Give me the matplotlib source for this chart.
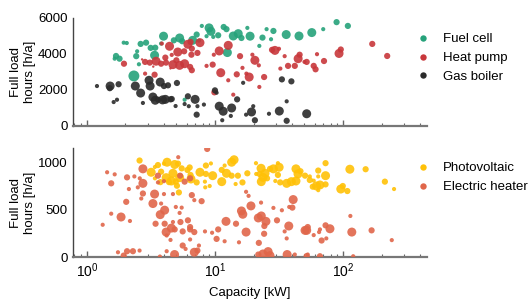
import matplotlib
matplotlib.use("Agg")
import matplotlib.pyplot as plt
from matplotlib.lines import Line2D
import numpy as np

plt.rcParams['font.family'] = ['Liberation Sans', 'DejaVu Sans']

S = {'t': 3, 's': 9, 'm': 20, 'b': 42, 'B': 62}

# Fuel cell: (capacity kW, full load hours, size class)
fuel_cell = [
    (3.97, 4990, 'b'), (5.3, 4890, 'b'), (5.55, 4710, 'm'), (4.78, 4760, 'm'),
    (1.94, 4630, 's'), (2.05, 4610, 's'), (2.63, 4560, 'm'), (2.90, 4630, 'm'),
    (3.15, 4340, 'm'), (3.42, 4350, 'm'), (3.80, 4580, 's'), (2.47, 4150, 's'),
    (3.38, 3930, 'b'), (1.69, 3890, 'm'), (1.65, 3740, 's'), (1.80, 3740, 'm'),
    (2.43, 3880, 'm'), (2.55, 3430, 's'), (2.33, 2780, 'B'), (5.8, 1460, 's'),
    (9.0, 5450, 'b'), (9.3, 5260, 'b'), (7.9, 5560, 's'), (7.2, 5080, 'm'),
    (6.7, 4760, 'b'), (7.5, 4740, 's'), (8.6, 4990, 's'), (9.7, 4950, 's'),
    (10.6, 5040, 'm'), (11.7, 5500, 'm'), (12.3, 5380, 'm'), (13.9, 5000, 'b'),
    (15.2, 5130, 'b'), (16.1, 4890, 'm'), (18.8, 4990, 'b'), (17.9, 5450, 's'),
    (12.5, 4080, 'b'), (22.2, 4450, 's'), (23.5, 4910, 'm'), (25.3, 5380, 's'),
    (27.4, 4820, 's'), (28.6, 5280, 'm'), (36.0, 5080, 'b'), (45.3, 5000, 'b'),
    (57, 5190, 'b'), (70, 5380, 's'), (89, 5770, 'm'), (109, 5560, 'm'),
]

heat_pump = [
    (6.15, 4540, 'b'), (4.42, 4430, 'b'), (3.85, 4580, 's'), (5.13, 4110, 'b'),
    (5.75, 4150, 'm'), (4.6, 3950, 's'), (4.1, 3800, 'm'), (1.95, 3460, 'm'),
    (2.85, 3560, 'm'), (3.10, 3520, 'm'), (3.47, 3600, 'b'), (3.80, 3460, 'm'),
    (4.15, 3520, 'm'), (4.7, 3410, 'b'), (5.3, 3370, 'b'), (5.8, 3460, 'b'),
    (5.0, 3650, 'm'), (6.4, 3280, 'm'), (3.38, 2850, 'm'), (2.85, 2910, 's'),
    (7.64, 4630, 'b'), (6.45, 4670, 'm'), (6.6, 4300, 'm'), (6.55, 3960, 'm'),
    (7.3, 4060, 'm'), (9.8, 3960, 's'), (10.8, 4170, 'b'), (12.7, 4480, 'b'),
    (15.7, 3880, 'm'), (19.6, 3960, 's'), (20.5, 3650, 'b'), (22.0, 3370, 's'),
    (9.6, 3410, 'm'), (8.6, 3340, 's'), (6.6, 3100, 'm'), (11.1, 2960, 'b'),
    (14.8, 2870, 'm'), (17.6, 2910, 's'), (18.5, 2720, 'b'), (16.4, 3230, 's'),
    (24.2, 2720, 'm'), (12.7, 2540, 's'), (29.4, 4200, 'b'), (27.9, 4230, 'm'),
    (31.6, 4290, 's'), (35.0, 3880, 's'), (37.2, 3340, 'm'), (42, 3340, 'm'),
    (44.6, 3740, 'b'), (45.8, 3960, 'm'), (50.0, 3560, 's'), (32.4, 3190, 's'),
    (22.2, 2170, 's'), (13.9, 1740, 's'), (9.9, 1870, 'm'), (62.6, 3990, 's'),
    (52, 3560, 'm'), (59, 3340, 'm'), (61, 3150, 'm'), (71, 3610, 'm'),
    (93, 4030, 'b'), (96, 4250, 'm'), (169, 4560, 'm'), (221, 3890, 'm'),
    (3.3, 3300, 't'), (4.5, 3200, 't'), (2.7, 3700, 't'),
]

gas_boiler = [
    (1.2, 2220, 's'), (1.52, 2220, 'b'), (1.51, 2100, 'm'), (1.77, 2320, 'm'),
    (1.62, 1330, 's'), (1.72, 1460, 's'), (2.39, 2220, 'b'), (2.63, 1830, 'b'),
    (3.06, 2540, 'b'), (3.12, 2220, 'b'), (3.28, 1610, 'b'), (3.42, 1430, 'b'),
    (3.74, 2440, 'b'), (4.0, 2220, 'm'), (4.1, 1480, 'b'), (3.6, 1460, 'm'),
    (4.3, 2260, 'm'), (4.5, 1480, 'm'), (5.05, 2390, 'm'), (2.74, 1280, 's'),
    (6.15, 1650, 'm'), (6.25, 1100, 's'), (4.93, 1110, 's'), (7.0, 1480, 'b'),
    (7.3, 1100, 's'), (7.2, 630, 'm'), (8.2, 1190, 's'), (10.0, 1980, 'm'),
    (10.3, 1850, 's'), (10.8, 1100, 'b'), (11.6, 820, 'b'), (11.4, 320, 's'),
    (13.5, 1000, 'b'), (13.3, 560, 's'), (14.9, 1480, 'm'), (16.6, 2400, 's'),
    (19.3, 780, 'b'), (19.9, 1100, 's'), (20.5, 320, 'm'), (17.5, 630, 's'),
    (26.4, 680, 's'), (31.8, 830, 'b'), (36.3, 1370, 's'), (36.3, 290, 'm'),
    (33.3, 2590, 'm'), (39.5, 2480, 'm'), (52, 680, 'b'), (3.9, 1450, 'b'),
    (4.6, 1500, 'm'), (5.8, 1220, 's'),
]

photovoltaic = [
    (2.58, 1018, 'm'), (3.40, 950, 's'), (3.59, 970, 'm'), (4.23, 1000, 'b'),
    (4.85, 976, 'b'), (5.15, 985, 'm'), (3.18, 894, 'b'), (3.80, 900, 'm'),
    (4.7, 883, 'b'), (5.5, 935, 'm'), (6.1, 918, 'm'), (3.40, 830, 's'),
    (4.16, 837, 'b'), (4.57, 802, 'b'), (4.95, 795, 'm'), (5.05, 752, 'm'),
    (5.3, 837, 'b'), (4.38, 790, 'm'), (3.75, 790, 'm'), (6.45, 865, 'm'),
    (5.23, 681, 'm'), (4.0, 985, 's'), (14.1, 1026, 'b'), (13.5, 1000, 'b'),
    (9.3, 987, 's'), (11.9, 965, 's'), (8.5, 965, 'm'), (6.35, 945, 'm'),
    (7.64, 894, 'b'), (9.6, 858, 'b'), (8.5, 876, 'm'), (11.3, 919, 'm'),
    (12.3, 883, 'b'), (13.5, 858, 'm'), (15.1, 858, 'm'), (17.9, 883, 'm'),
    (6.5, 823, 'b'), (7.2, 787, 'm'), (8.35, 795, 's'), (11.3, 795, 'b'),
    (9.1, 749, 's'), (8.4, 735, 's'), (14.5, 770, 's'), (16.4, 787, 'm'),
    (20.9, 990, 's'), (22.9, 936, 'b'), (22.3, 876, 'm'), (21.0, 876, 's'),
    (24.6, 883, 'b'), (23.7, 840, 'b'), (23.0, 795, 'b'), (25.5, 830, 'm'),
    (26.9, 930, 'm'), (28.6, 930, 'b'), (31.0, 990, 's'), (31.7, 947, 'b'),
    (31.0, 866, 'm'), (29.6, 802, 's'), (32.3, 787, 'm'), (42.9, 930, 'b'),
    (44.5, 877, 'b'), (50.5, 858, 'm'), (36.3, 777, 'b'), (39.5, 795, 'b'),
    (42.9, 802, 'b'), (46.5, 905, 'm'), (73, 990, 'm'), (113, 926, 'b'),
    (150, 926, 'm'), (64, 912, 'm'), (73, 858, 'b'), (55, 850, 's'),
    (64, 850, 's'), (55, 812, 'm'), (59, 805, 's'), (73, 766, 'm'),
    (66, 760, 'b'), (58, 742, 'm'), (62, 749, 'b'), (64, 705, 's'),
    (96, 717, 'b'), (99.5, 749, 'm'), (108, 696, 'm'), (212, 795, 'm'),
    (250, 717, 's'),
]

electric_heater = [
    (5.17, 1053, 's'), (2.74, 930, 'b'), (1.44, 894, 's'), (1.65, 872, 's'),
    (2.06, 840, 'm'), (2.35, 850, 's'), (2.59, 830, 's'), (1.55, 777, 'm'),
    (2.74, 777, 'b'), (3.59, 858, 'm'), (3.59, 787, 's'), (4.0, 800, 's'),
    (5.35, 858, 'm'), (5.8, 795, 'm'), (6.4, 830, 'm'), (2.13, 717, 's'),
    (2.5, 735, 's'), (3.38, 664, 'b'), (2.74, 670, 'm'), (2.66, 617, 's'),
    (4.0, 664, 's'), (2.03, 582, 'm'), (3.28, 564, 'b'), (3.80, 564, 's'),
    (4.7, 664, 's'), (4.95, 528, 's'), (5.5, 521, 's'), (4.05, 494, 'b'),
    (3.74, 447, 'b'), (3.44, 351, 'm'), (4.05, 351, 'm'), (4.7, 369, 's'),
    (5.38, 369, 'm'), (6.15, 387, 'm'), (5.3, 465, 's'), (1.85, 422, 'b'),
    (1.55, 457, 's'), (2.17, 380, 's'), (1.33, 340, 's'), (4.16, 263, 'b'),
    (4.57, 305, 'b'), (4.85, 291, 'm'), (5.6, 270, 'm'), (6.4, 291, 'm'),
    (4.2, 227, 's'), (4.5, 180, 's'), (5.6, 121, 'm'), (5.9, 85, 's'),
    (6.4, 185, 's'), (1.75, 50, 's'), (2.06, 61, 'm'), (2.29, 61, 'm'),
    (2.58, 68, 's'), (1.94, 15, 'm'), (4.2, 61, 's'), (4.84, 26, 'b'),
    (3.72, 5, 's'), (8.7, 1140, 'm'), (6.6, 653, 'm'), (6.9, 600, 's'),
    (7.87, 589, 'm'), (17.5, 688, 's'), (18.3, 645, 's'), (22.9, 574, 's'),
    (19.1, 539, 'b'), (16.1, 486, 'b'), (16.5, 451, 'b'), (12.2, 376, 'b'),
    (14.6, 351, 'm'), (21.8, 412, 'b'), (23.0, 433, 'b'), (25.0, 376, 'b'),
    (24.3, 327, 'm'), (30.5, 387, 'm'), (28.6, 518, 's'), (33.3, 493, 's'),
    (38.0, 528, 's'), (40.2, 521, 'm'), (40.8, 606, 'b'), (37.7, 327, 'b'),
    (35.0, 270, 's'), (36.3, 196, 's'), (50.5, 281, 'b'), (53, 316, 'm'),
    (6.4, 316, 'm'), (6.9, 263, 'm'), (8.36, 270, 's'), (9.5, 256, 's'),
    (10.6, 291, 'm'), (17.5, 263, 'b'), (24.2, 245, 'm'), (10.3, 191, 'm'),
    (11.9, 166, 's'), (15.4, 155, 's'), (22, 149, 'm'), (7.5, 121, 's'),
    (7.3, 68, 'm'), (6.9, 50, 'b'), (23.7, 32, 'b'), (26.0, 57, 'b'),
    (26.9, 15, 'b'), (21.8, 26, 'm'), (36.6, 26, 'b'), (42.0, 26, 's'),
    (53, 26, 's'), (114, 433, 's'), (52, 281, 'b'), (66, 291, 's'),
    (73, 334, 'm'), (79, 298, 'b'), (65, 263, 's'), (59, 231, 's'),
    (68, 174, 'm'), (74, 196, 's'), (117, 263, 'b'), (167, 281, 'm'),
    (240, 178, 's'), (52, 10, 'm'), (66, 8, 'm'), (120, 8, 's'),
]

top_series = [("Fuel cell", fuel_cell, "#26a27a"),
              ("Heat pump", heat_pump, "#c8373b"),
              ("Gas boiler", gas_boiler, "#2b2b2b")]
bottom_series = [("Photovoltaic", photovoltaic, "#ffc107"),
                 ("Electric heater", electric_heater, "#e0664a")]

top_yticks = [0, 2000, 4000, 6000]
bottom_yticks = [0, 500, 1000]

fig = plt.figure(figsize=(5.31, 3.0), dpi=100)
ax1 = fig.add_axes([73/531, 1-126/300, 354/531, 108/300])
ax2 = fig.add_axes([73/531, 1-257/300, 354/531, 109/300], sharex=ax1)

def style(ax):
    ax.set_xscale('log')
    for sp in ['top', 'right']:
        ax.spines[sp].set_visible(False)
    ax.spines['left'].set_color('#444444')
    ax.spines['left'].set_linewidth(1.0)
    ax.spines['bottom'].set_color('#777777')
    ax.spines['bottom'].set_linewidth(1.6)
    ax.tick_params(axis='x', which='major', direction='in', length=4, width=1, color='#666666', labelsize=10)
    ax.tick_params(axis='x', which='minor', direction='in', length=2.2, width=0.8, color='#666666')
    ax.tick_params(axis='y', direction='in', length=0, labelsize=9.5, pad=4)

def draw(ax, series):
    handles = []
    for name, data, color in series:
        cap = np.array([d[0] for d in data])
        hrs = np.array([d[1] for d in data])
        sz = np.array([S[d[2]] for d in data])
        ax.scatter(cap, hrs, s=sz, color=color, alpha=0.9, linewidths=0, zorder=3)
        handles.append(Line2D([], [], marker='o', linestyle='none', color=color,
                              markersize=4.6, markeredgewidth=0, label=name))
    return handles

style(ax1)
style(ax2)
h1 = draw(ax1, top_series)
h2 = draw(ax2, bottom_series)

ax1.set_xlim(0.78, 452)
ax1.set_ylim(0, 6000)
ax1.set_yticks(top_yticks)
ax2.set_ylim(0, 1150)
ax2.set_yticks(bottom_yticks)
plt.setp(ax1.get_xticklabels(), visible=False)

for ax in (ax1, ax2):
    ax.set_ylabel("Full load\nhours [h/a]", fontsize=9.5, multialignment='center')
    ax.yaxis.set_label_coords(-0.105, 0.5)
ax2.set_xlabel("Capacity [kW]", fontsize=9.5, labelpad=5)

leg_kw = dict(loc='upper left', frameon=False, fontsize=9.5, handlelength=1.0,
              handletextpad=1.0, labelspacing=0.5, borderpad=0.3)
fig.legend(handles=h1, bbox_to_anchor=(0.764, 0.925), **leg_kw)
fig.legend(handles=h2, bbox_to_anchor=(0.764, 0.495), **leg_kw)

fig.savefig("out.png", dpi=100)
